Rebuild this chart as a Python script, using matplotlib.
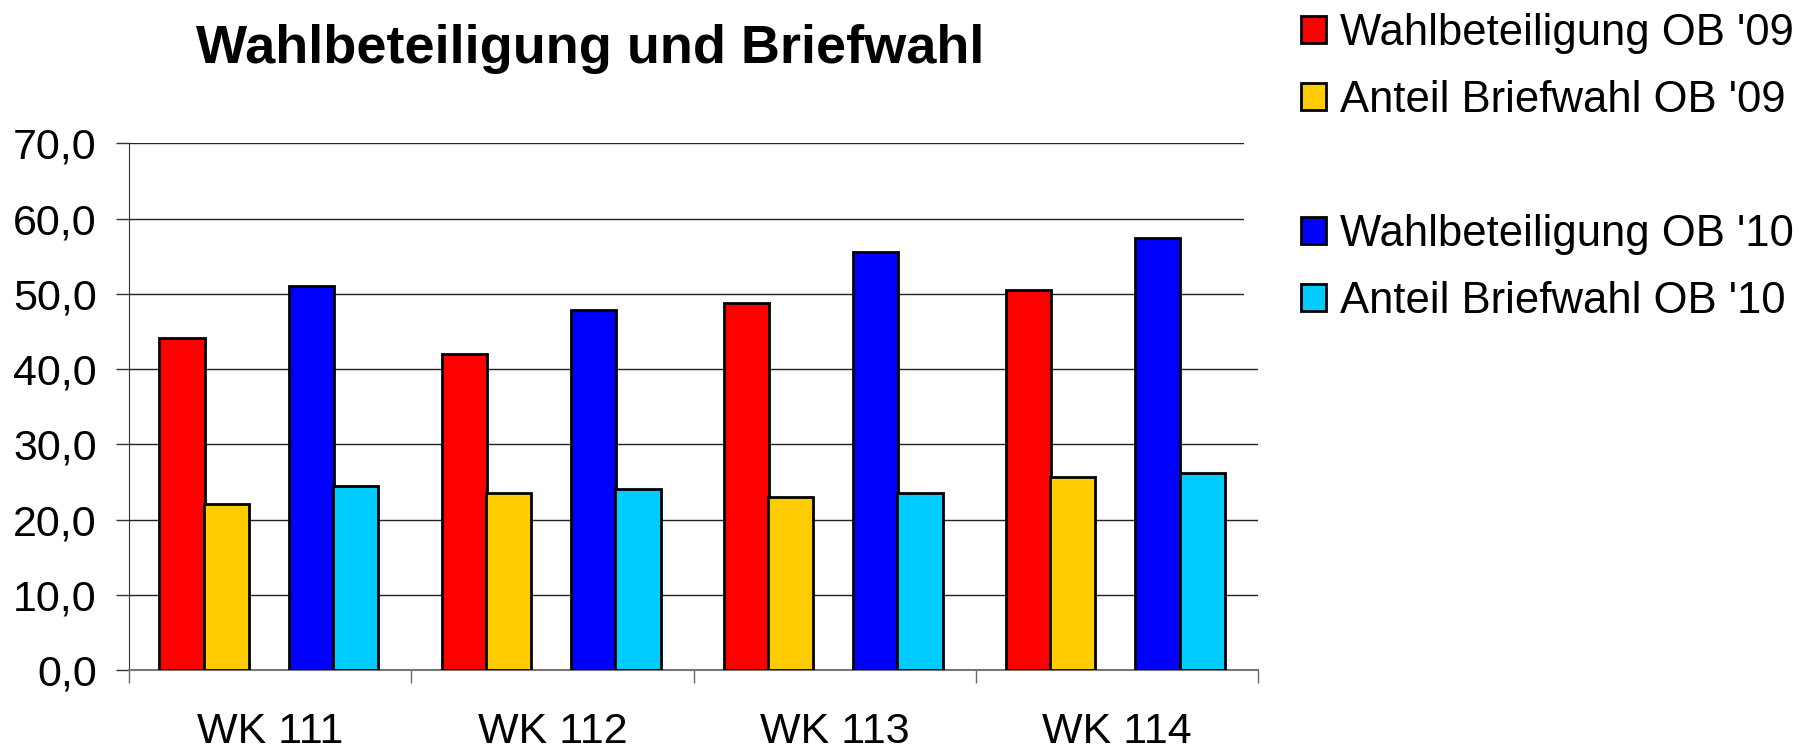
import matplotlib
matplotlib.use("Agg")
import numpy as np
import matplotlib.pyplot as plt
from matplotlib.patches import Patch, Rectangle
from matplotlib.ticker import FuncFormatter, FixedLocator

plt.rcParams['font.family'] = ['Liberation Sans', 'DejaVu Sans']

categories = ['WK 111', 'WK 112', 'WK 113', 'WK 114']
wb_09 = [44.2, 42.0, 48.8, 50.5]
bw_09 = [22.1, 23.5, 23.0, 25.7]
wb_10 = [51.0, 47.9, 55.6, 57.4]
bw_10 = [24.4, 24.0, 23.5, 26.2]
labels = ["Wahlbeteiligung OB '09", "Anteil Briefwahl OB '09",
          "Wahlbeteiligung OB '10", "Anteil Briefwahl OB '10"]
colors = ['#ff0000', '#ffcc00', '#0000ff', '#00ccff']

fig = plt.figure(figsize=(18.16, 7.52), dpi=100)
ax = fig.add_axes([0.0712, 0.109, 0.6214, 0.7003])

x = np.arange(len(categories))
w = 0.16
# excel-style: 5 slots per group, the middle one is an empty series
group_offsets = [-0.313, -0.156, 0.146, 0.303]
series = [wb_09, bw_09, wb_10, bw_10]
for off, vals, c in zip(group_offsets, series, colors):
    ax.bar(x + off, vals, w, color=c, edgecolor='black', linewidth=2, zorder=3)

ax.set_xlim(-0.5, len(categories) - 0.5)
ax.set_ylim(0, 70)
ax.set_yticks(np.arange(0, 71, 10))
ax.yaxis.set_major_formatter(FuncFormatter(lambda v, p: f"{v:.1f}".replace('.', ',')))
ax.grid(axis='y', color='#222222', linewidth=1.0, zorder=0)

# category boundaries as major ticks, labels on minor ticks
ax.xaxis.set_major_locator(FixedLocator(np.arange(-0.5, len(categories), 1.0)))
ax.xaxis.set_major_formatter(FuncFormatter(lambda v, p: ''))
ax.xaxis.set_minor_locator(FixedLocator(x))
ax.set_xticklabels(categories, minor=True)
ax.tick_params(axis='x', which='major', length=9.4, width=1, color='#666666', direction='out')
ax.tick_params(axis='x', which='minor', length=0, pad=30, labelsize=31)
ax.tick_params(axis='y', length=9.4, width=1, color='#333333', pad=14, labelsize=31)

for sp in ['top', 'right']:
    ax.spines[sp].set_visible(False)
ax.spines['left'].set_color('#333333')
ax.spines['bottom'].set_color('#777777')
ax.spines['bottom'].set_linewidth(1.5)

fig.text(0.3252, 0.935, 'Wahlbeteiligung und Briefwahl', fontsize=39,
         fontweight='bold', ha='center', va='center')

# white legend area covers the right end of the upper gridlines
fig.add_artist(Rectangle((0.685, 0.56), 0.32, 0.45, transform=fig.transFigure,
                         facecolor='white', edgecolor='none', zorder=1))

handles = [Patch(facecolor=colors[0], edgecolor='black', linewidth=2),
           Patch(facecolor=colors[1], edgecolor='black', linewidth=2),
           Patch(facecolor='none', edgecolor='none'),
           Patch(facecolor=colors[2], edgecolor='black', linewidth=2),
           Patch(facecolor=colors[3], edgecolor='black', linewidth=2)]
leg_labels = [labels[0], labels[1], ' ', labels[2], labels[3]]
fig.legend(handles, leg_labels, loc='upper left', bbox_to_anchor=(0.7094, 1.0),
           frameon=False, fontsize=31.4, handlelength=0.575, handleheight=0.575,
           handletextpad=0.32, labelspacing=0.6, borderpad=0.29, borderaxespad=0)

fig.savefig('out.png', dpi=100)
